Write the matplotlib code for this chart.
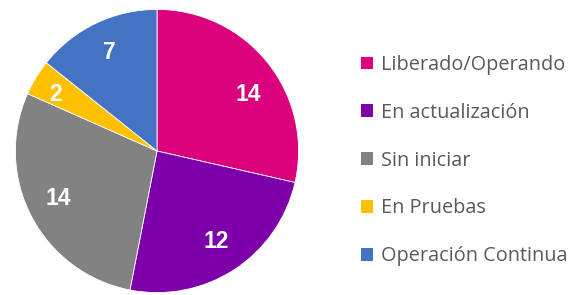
import matplotlib
matplotlib.use("Agg")
import matplotlib.pyplot as plt
import numpy as np
from matplotlib.patches import Patch

categories = ["Liberado/Operando", "En actualización", "Sin iniciar", "En Pruebas", "Operación Continua"]
values = [14, 12, 14, 2, 7]
colors = ["#DB007C", "#7E00AB", "#828282", "#FFC000", "#4573C4"]

# label placement styling (distance as fraction of radius, angular nudge in degrees)
label_dist = [0.76, 0.76, 0.77, 0.82, 0.77]
label_nudge = [-7, 0, -2, 2, 0]

fig = plt.figure(figsize=(5.72, 2.95), dpi=100)
ax = fig.add_axes([14/572, 1/295, 286/572, 286/295])

wedges, texts = ax.pie(
    values, colors=colors, startangle=90, counterclock=False,
    radius=1.0, wedgeprops=dict(edgecolor="white", linewidth=0.6))
for w, v, d, n in zip(wedges, values, label_dist, label_nudge):
    mid = np.deg2rad((w.theta1 + w.theta2) / 2 + n)
    ax.text(d * np.cos(mid), d * np.sin(mid), f"{v}", ha="center", va="center",
            color="white", fontsize=16.5, fontweight="bold", family="Liberation Sans")
ax.set_xlim(-1.01, 1.01)
ax.set_ylim(-1.01, 1.01)
ax.set_aspect("equal")
ax.axis("off")

handles = [Patch(facecolor=c, edgecolor="none") for c in colors]
leg = fig.legend(handles, categories, loc="upper left", bbox_to_anchor=(361/572, 1 - 55/295),
                 frameon=False, labelspacing=1.40, borderpad=0, borderaxespad=0,
                 handlelength=0.6, handleheight=0.6, handletextpad=0.4,
                 prop=dict(family="Open Sans", size=14.3))
for t in leg.get_texts():
    t.set_color("#5a5a5a")

fig.savefig("out.png", dpi=100)
